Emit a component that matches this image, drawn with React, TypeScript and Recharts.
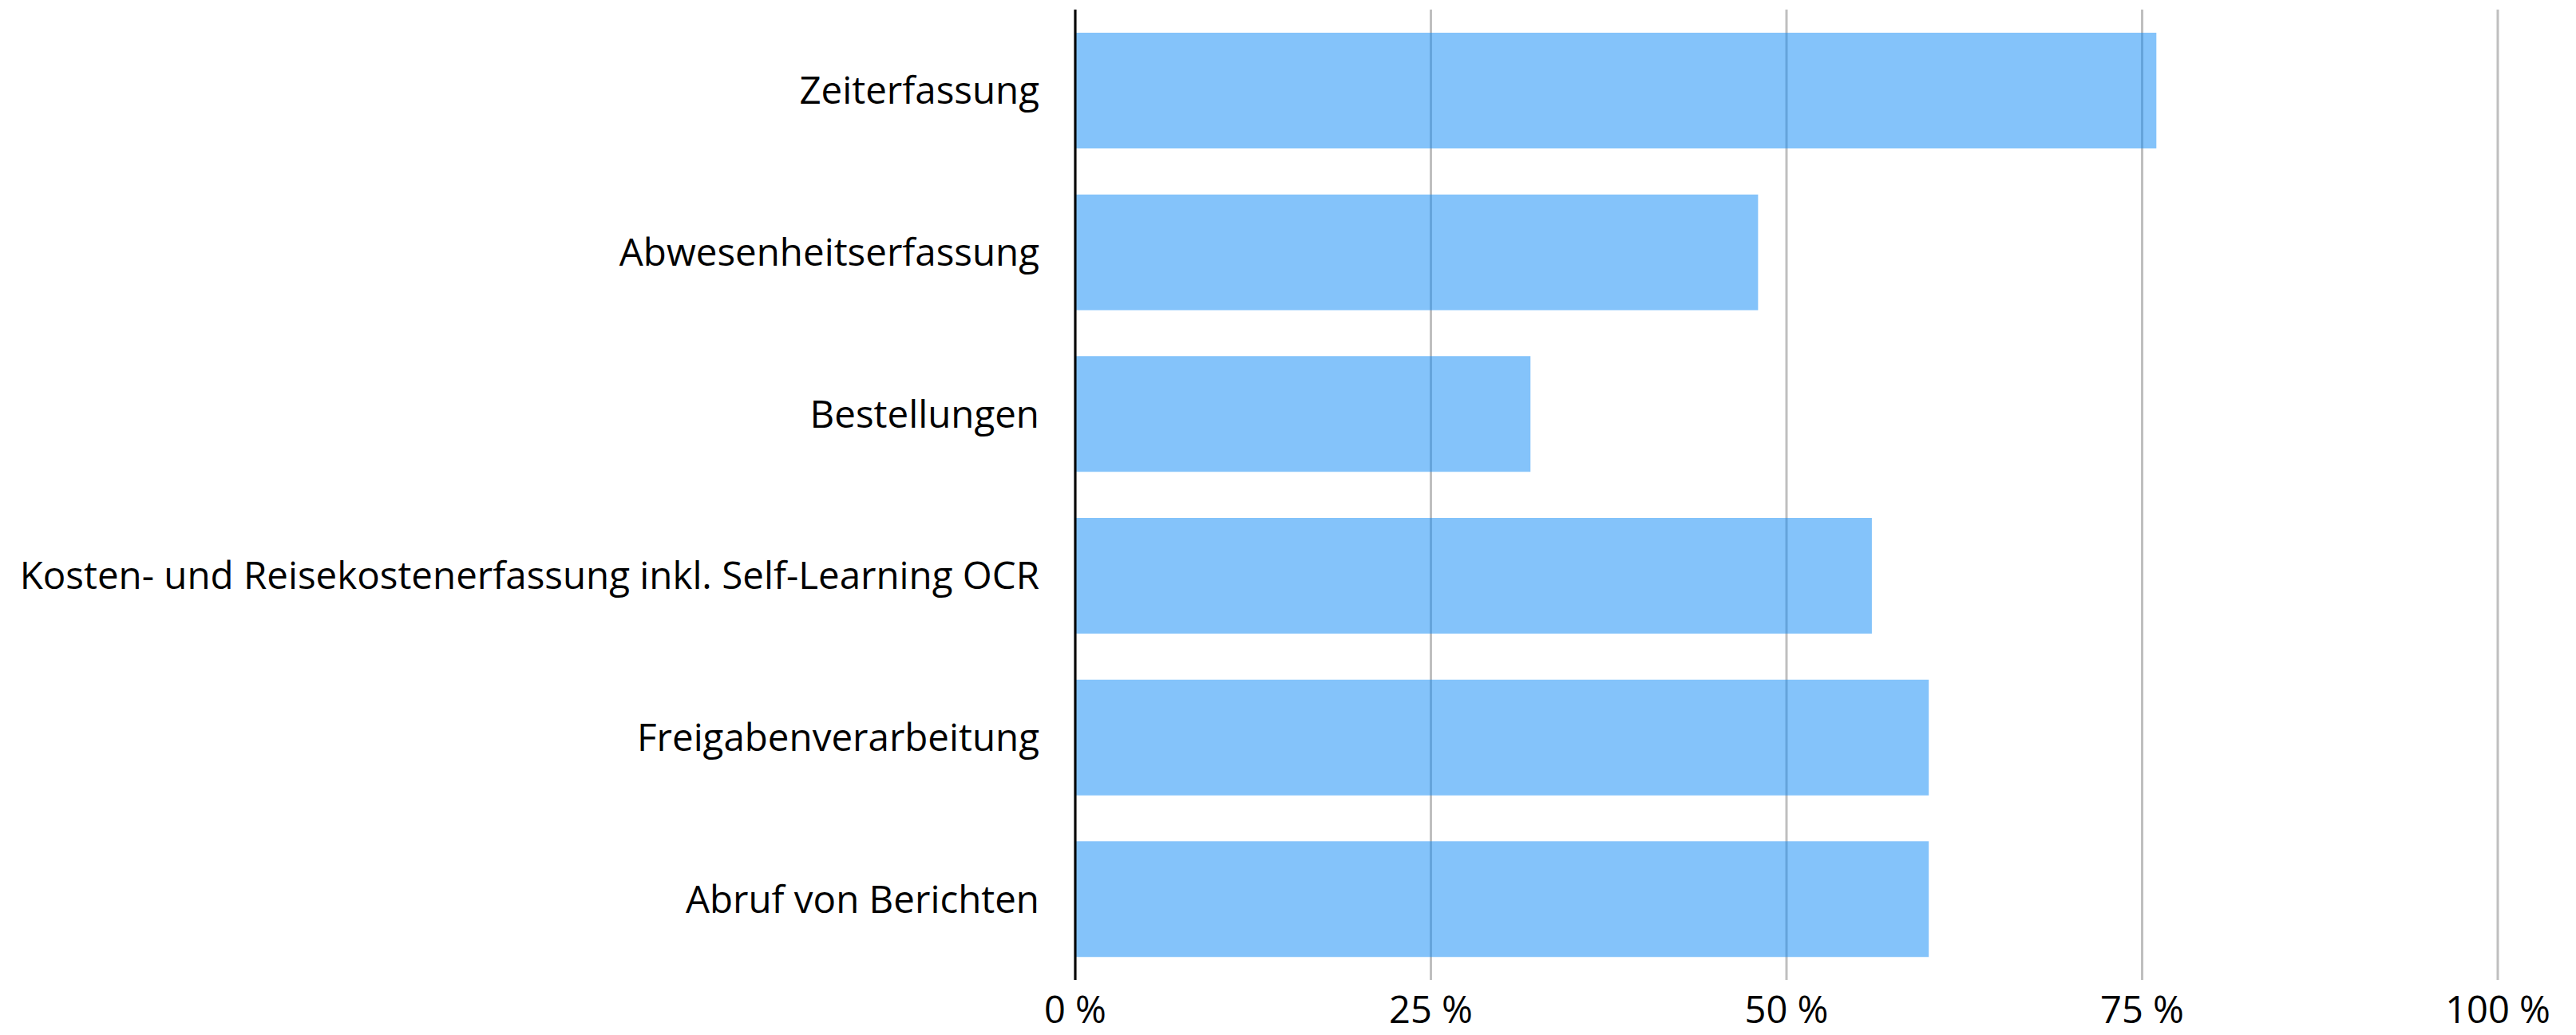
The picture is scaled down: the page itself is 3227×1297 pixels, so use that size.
import { BarChart, Bar, XAxis, YAxis, CartesianGrid } from 'recharts';

const categories = [
  'Zeiterfassung',
  'Abwesenheitserfassung',
  'Bestellungen',
  'Kosten- und Reisekostenerfassung inkl. Self-Learning OCR',
  'Freigabenverarbeitung',
  'Abruf von Berichten',
];

const shares = [76, 48, 32, 56, 60, 60];

const xTicks = [0, 25, 50, 75, 100];

const data = categories.map((name, i) => ({ name, value: shares[i] }));

const FONT = '"Open Sans", "Noto Sans", sans-serif';

export default function App() {
  return (
    <div style={{ width: 3211, height: 1289, background: '#fff' }}>
      <BarChart
        width={3211}
        height={1289}
        data={data}
        layout="vertical"
        margin={{ top: 4, right: 90, bottom: 0, left: 0 }}
      >
        <CartesianGrid horizontal={false} stroke="#bfbfbf" strokeWidth={3} />
        <XAxis
          type="number"
          domain={[0, 100]}
          ticks={xTicks}
          tickFormatter={(v: number) => `${v} %`}
          axisLine={false}
          tickLine={false}
          tickSize={0}
          tickMargin={21}
          height={69}
          interval={0}
          tick={{ fill: '#000', fontSize: 47, fontFamily: FONT }}
        />
        <YAxis
          type="category"
          dataKey="name"
          width={1339}
          axisLine={{ stroke: '#000', strokeWidth: 3 }}
          tickLine={false}
          tickSize={0}
          tickMargin={45}
          interval={0}
          tick={{ fill: '#000', fontSize: 47.5, fontFamily: FONT }}
        />
        <Bar
          dataKey="value"
          barSize={145}
          fill="rgb(20,140,245)"
          fillOpacity={0.52}
          isAnimationActive={false}
        />
      </BarChart>
    </div>
  );
}
